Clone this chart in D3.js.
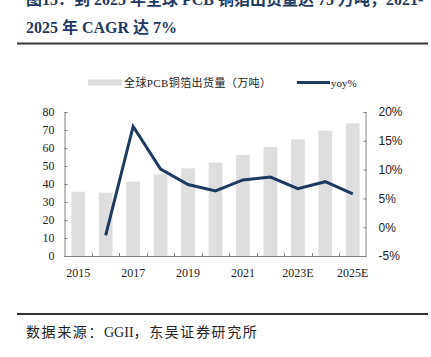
<!DOCTYPE html>
<html>
<head>
<meta charset="utf-8">
<script src="https://cdn.jsdelivr.net/npm/d3@7/dist/d3.min.js"></script>
<style>
body { margin: 0; background: #fff; }
svg { display: block; }
</style>
</head>
<body>
<svg id="chart" width="431" height="357"></svg>
<script>
const years = ["2015","2016","2017","2018","2019","2020","2021","2022","2023E","2024E","2025E"];
const shipments = [35.7, 35.2, 41.3, 45.4, 48.7, 51.9, 56.1, 60.6, 64.8, 69.6, 73.7];
const yoyYears = ["2016","2017","2018","2019","2020","2021","2022","2023E","2024E","2025E"];
const yoy = [-1.4, 17.5, 10.1, 7.4, 6.3, 8.2, 8.7, 6.7, 7.9, 5.8];
const xTickLabels = ["2015","2017","2019","2021","2023E","2025E"];
const leftTicks = [0,10,20,30,40,50,60,70,80];
const rightTicks = [-5,0,5,10,15,20];

(function () {
const svg = d3.select("#chart");
const serif = "'Liberation Serif','Noto Sans CJK SC',serif";
const cjk = "'Liberation Serif','Noto Sans CJK SC',sans-serif";
const navy = "#1f3a60";

// Title
svg.append("text").attr("x", 26).attr("y", 5)
  .attr("font-family", cjk).attr("font-weight", "bold").attr("font-size", 16).attr("fill", navy)
  .text("图15：到 2025 年全球 PCB 铜箔出货量达 75 万吨，2021-");
svg.append("text").attr("x", 26).attr("y", 33)
  .attr("font-family", cjk).attr("font-weight", "bold").attr("font-size", 16).attr("fill", navy)
  .text("2025 年 CAGR 达 7%");
svg.append("rect").attr("x", 17).attr("y", 42.5).attr("width", 411).attr("height", 2).attr("fill", "#333");
svg.append("rect").attr("x", 17).attr("y", 313).attr("width", 411).attr("height", 2).attr("fill", "#333");
const src = svg.append("text").attr("x", 26).attr("y", 337)
  .attr("font-family", cjk).attr("font-size", 14).attr("fill", "#222");
src.append("tspan").attr("letter-spacing", 1.6).text("数据来源：");
src.append("tspan").text("GGII");
src.append("tspan").attr("letter-spacing", 1.6).text("，东吴证券研究所");

// Legend
svg.append("rect").attr("x", 88).attr("y", 79.5).attr("width", 34).attr("height", 6).attr("fill", "#dedede");
svg.append("text").attr("x", 124).attr("y", 86.5)
  .attr("font-family", cjk).attr("font-size", 11).attr("letter-spacing", 0.4).attr("fill", "#222")
  .text("全球PCB铜箔出货量（万吨）");
svg.append("line").attr("x1", 297).attr("x2", 330).attr("y1", 82.5).attr("y2", 82.5)
  .attr("stroke", navy).attr("stroke-width", 3);
svg.append("text").attr("x", 331).attr("y", 86.5)
  .attr("font-family", serif).attr("font-size", 11).attr("fill", "#222")
  .text("yoy%");

// Scales
const pLeft = 64.5, pRight = 366.5, pTop = 112, pBottom = 256;
const x = d3.scaleBand().domain(years).range([pLeft, pRight]).paddingInner(0.5).paddingOuter(0.25);
const xb = d3.scaleBand().domain(years).range([pLeft, pRight]);
const yL = d3.scaleLinear().domain([0, 80]).range([pBottom, pTop]);
const yR = d3.scaleLinear().domain([-5, 20]).range([pBottom, pTop]);

// Bars
svg.append("g").selectAll("rect").data(years).join("rect")
  .attr("x", d => x(d)).attr("width", x.bandwidth())
  .attr("y", (d, i) => yL(shipments[i])).attr("height", (d, i) => pBottom - yL(shipments[i]))
  .attr("fill", "#dedede");

// Axes
const axisColor = "#808080";
const gL = svg.append("g").attr("transform", `translate(${pLeft},0)`)
  .call(d3.axisLeft(yL).tickValues(leftTicks).tickSize(-3).tickPadding(10));
gL.selectAll("text").attr("font-family", serif).attr("font-size", 12).attr("fill", "#222");
const gR = svg.append("g").attr("transform", `translate(${pRight},0)`)
  .call(d3.axisRight(yR).tickValues(rightTicks).tickSize(-3).tickPadding(12).tickFormat(d => d + "%"));
gR.selectAll("text").attr("font-family", "'Liberation Sans',Arial,sans-serif").attr("font-size", 12).attr("fill", "#222");

// bottom axis with boundary ticks
const gB = svg.append("g").attr("transform", `translate(0,${pBottom})`);
gB.append("line").attr("x1", pLeft).attr("x2", pRight).attr("y1", 0.5).attr("y2", 0.5).attr("stroke", axisColor);
gB.selectAll("line.tk").data(years.slice(1)).join("line").attr("class", "tk")
  .attr("x1", d => Math.round(xb(d)) + 0.5).attr("x2", d => Math.round(xb(d)) + 0.5)
  .attr("y1", 0).attr("y2", -3).attr("stroke", axisColor);
gB.selectAll("text").data(xTickLabels).join("text")
  .attr("x", d => xb(d) + xb.bandwidth() / 2).attr("y", 21)
  .attr("text-anchor", "middle").attr("font-family", serif).attr("font-size", 12).attr("fill", "#222")
  .text(d => d);

[gL, gR].forEach(g => {
  g.selectAll("path,line").attr("stroke", axisColor);
});
gL.select("path").attr("d", `M0.5,${pTop}V${pBottom + 0.5}`);
gR.select("path").attr("d", `M-0.5,${pTop}V${pBottom + 0.5}`);

// Line
const line = d3.line()
  .x((d, i) => xb(yoyYears[i]) + xb.bandwidth() / 2)
  .y(d => yR(d));
svg.append("path").datum(yoy).attr("d", line)
  .attr("fill", "none").attr("stroke", navy).attr("stroke-width", 3).attr("stroke-linejoin", "miter");
})();
</script>
</body>
</html>
